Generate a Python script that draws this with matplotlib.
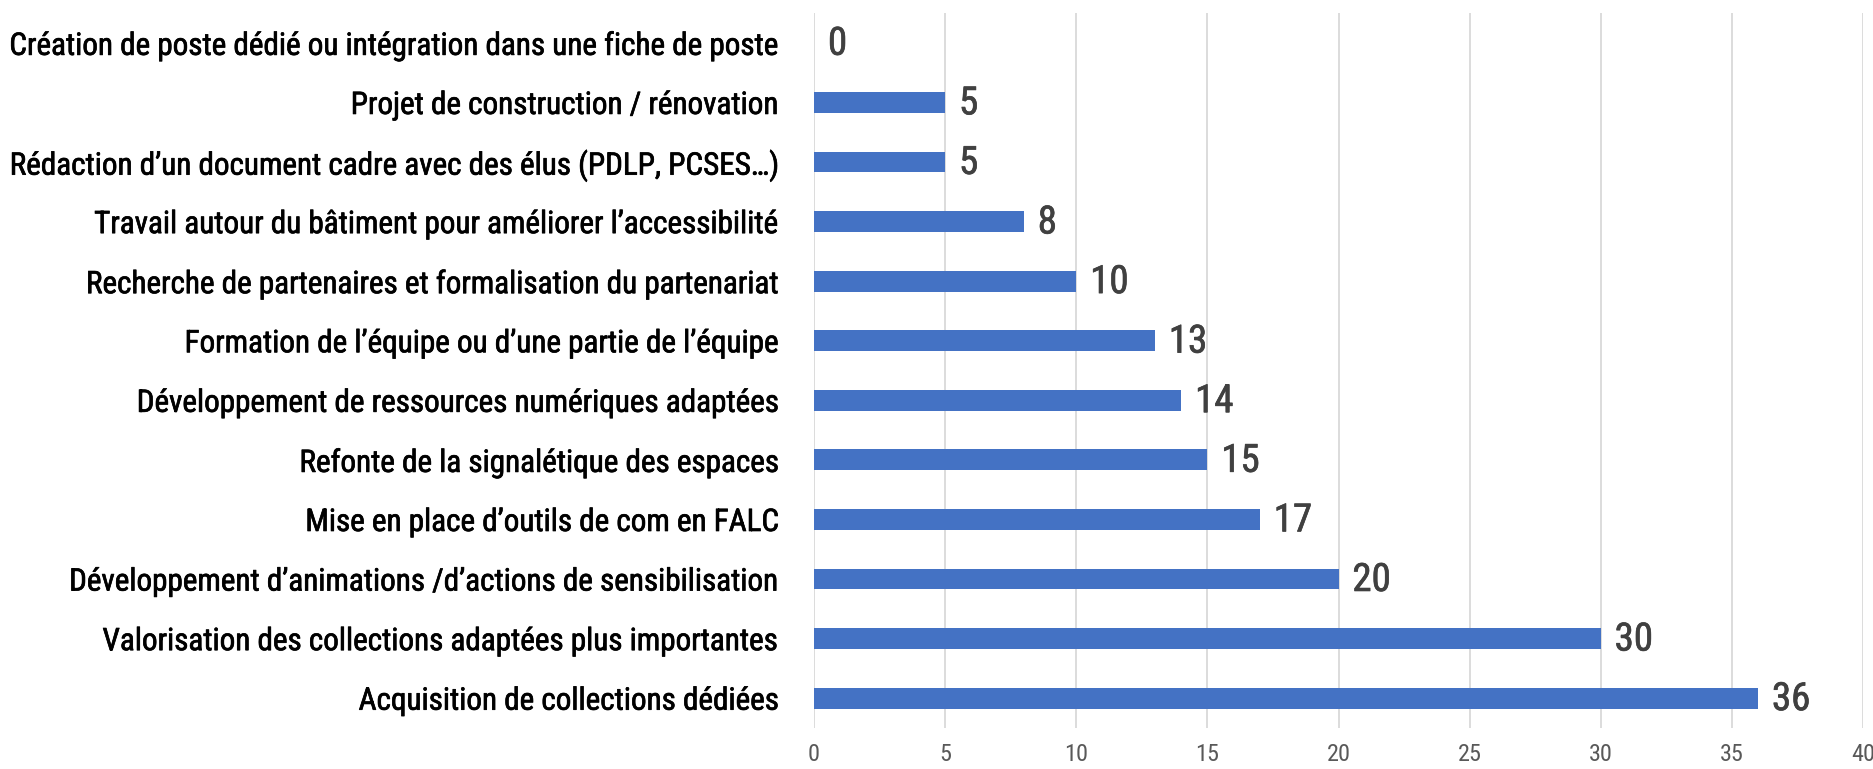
import matplotlib
matplotlib.use("Agg")
import matplotlib.pyplot as plt
import matplotlib.patheffects as pe
from matplotlib import font_manager

categories = [
    "Création de poste dédié ou intégration dans une fiche de poste",
    "Projet de construction / rénovation",
    "Rédaction d’un document cadre avec des élus (PDLP, PCSES…)",
    "Travail autour du bâtiment pour améliorer l’accessibilité",
    "Recherche de partenaires et formalisation du partenariat",
    "Formation de l’équipe ou d’une partie de l’équipe",
    "Développement de ressources numériques adaptées",
    "Refonte de la signalétique des espaces",
    "Mise en place d’outils de com en FALC",
    "Développement d’animations /d’actions de sensibilisation",
    "Valorisation des collections adaptées plus importantes",
    "Acquisition de collections dédiées",
]
values = [0, 5, 5, 8, 10, 13, 14, 15, 17, 20, 30, 36]
xticks = [0, 5, 10, 15, 20, 25, 30, 35, 40]

avail = {f.name for f in font_manager.fontManager.ttflist}
fam = "DejaVu Sans"
for cand in ["Roboto Condensed", "Liberation Sans Narrow", "DejaVu Sans Condensed",
             "Open Sans Condensed", "Noto Sans Condensed", "Liberation Sans"]:
    if cand in avail:
        fam = cand
        break
plt.rcParams["font.family"] = [fam, "DejaVu Sans"]

fig = plt.figure(figsize=(18.74, 7.69), dpi=100)
ax = fig.add_axes([0.4344, 0.0533, 0.9941 - 0.4344, 0.983 - 0.0533])

n = len(categories)
ypos = list(range(n))
ax.barh(ypos, values, height=0.35, color="#4472C4", zorder=3)
ax.set_ylim(n - 0.5, -0.5)
ax.set_xlim(0, 40)
ax.set_xticks(xticks)
ax.set_yticks(ypos)

# choose label size so the longest label spans ~767 px
renderer = fig.canvas.get_renderer()
t = fig.text(0, 0, categories[0], fontsize=20)
w = t.get_window_extent(renderer).width
t.remove()
lab_fs = 20 * 767 / w
lab_fs = min(lab_fs, 26)

ylabels = ax.set_yticklabels(categories, fontsize=lab_fs, color="#000000")
for lbl in ylabels:
    lbl.set_path_effects([pe.withStroke(linewidth=0.5, foreground="#000000")])
ax.set_xticklabels([str(v) for v in xticks], fontsize=lab_fs * 0.78, color="#595959")
ax.tick_params(axis="y", length=0, pad=25)
ax.tick_params(axis="x", length=0, pad=11)
for s in ax.spines.values():
    s.set_visible(False)
ax.grid(axis="x", color="#D9D9D9", linewidth=1.3, zorder=0)
ax.set_axisbelow(True)

for y, v in zip(ypos, values):
    ax.annotate(str(v), (v, y), xytext=(10, -1), textcoords="offset points",
                va="center", ha="left", fontsize=lab_fs * 1.25, color="#404040",
                fontweight="normal",
                path_effects=[pe.withStroke(linewidth=0.5, foreground="#404040")])

fig.savefig("out.png", dpi=100)
